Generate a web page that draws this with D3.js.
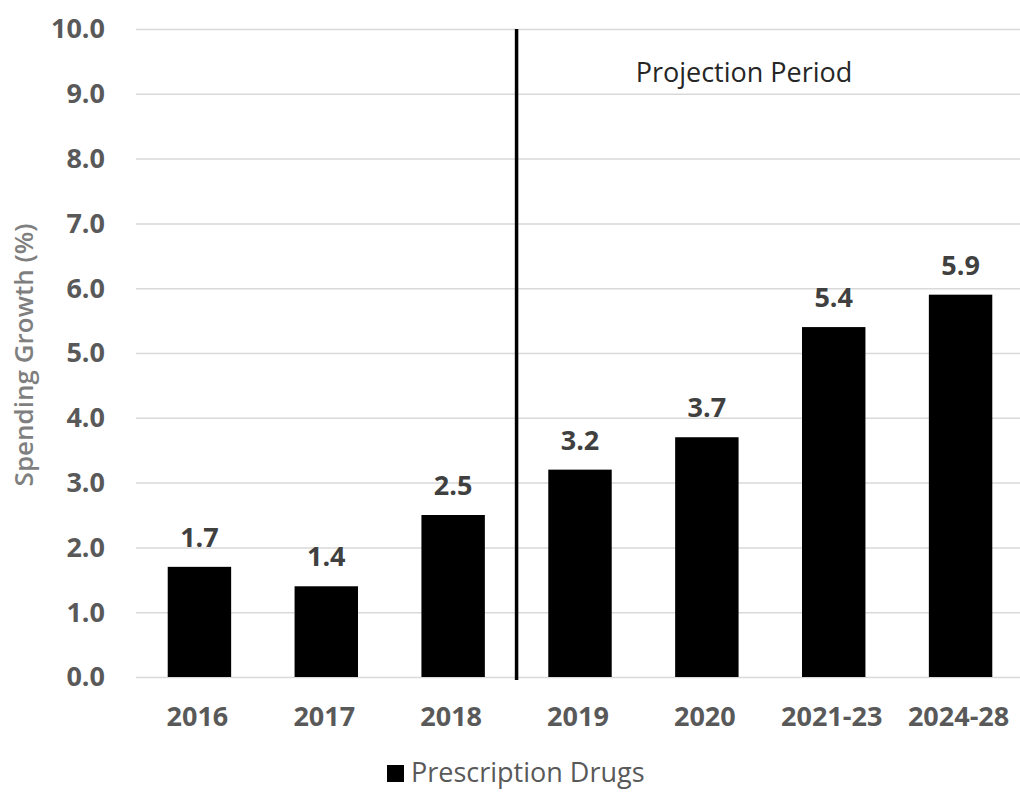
<!DOCTYPE html>
<html>
<head>
<meta charset="utf-8">
<script src="https://cdn.jsdelivr.net/npm/d3@7"></script>
<style>
  body { margin: 0; background: #fff; }
  svg { font-family: "Open Sans", sans-serif; }
  .grid line { stroke: #d9d9d9; stroke-width: 1.5; }
  .grid path { display: none; }
</style>
</head>
<body>
<div id="chart"></div>
<script>
// data
var categories = ['2016', '2017', '2018', '2019', '2020', '2021-23', '2024-28'];
var growth     = [1.7, 1.4, 2.5, 3.2, 3.7, 5.4, 5.9];
var yTicks     = [0, 1, 2, 3, 4, 5, 6, 7, 8, 9, 10];
var projectionStart = '2019';   // first projected category
var seriesName = 'Prescription Drugs';

var width = 1020, height = 792;
var margin = { top: 29, right: 0, bottom: 115, left: 136 };
var plotW = 888, plotH = height - margin.top - margin.bottom;

var svg = d3.select('#chart').append('svg')
    .attr('width', width)
    .attr('height', height);

var g = svg.append('g')
    .attr('transform', 'translate(' + margin.left + ',' + margin.top + ')');

var x = d3.scaleBand().domain(categories).range([0, plotW]).paddingInner(0.5).paddingOuter(0.25);
var y = d3.scaleLinear().domain([0, 10]).range([plotH, 0]);

// horizontal grid
g.append('g')
    .attr('class', 'grid')
    .call(d3.axisLeft(y).tickValues(yTicks).tickSize(-plotW).tickFormat(''));

// y tick labels
g.append('g')
    .selectAll('text')
    .data(yTicks)
    .join('text')
    .attr('x', -31)
    .attr('y', function(d) { return y(d); })
    .attr('dy', '0.35em')
    .attr('text-anchor', 'end')
    .style('font-size', '27px')
    .style('font-weight', 'bold')
    .style('fill', '#595959')
    .text(function(d) { return d.toFixed(1); });

// bars
g.selectAll('rect.bar')
    .data(growth)
    .join('rect')
    .attr('class', 'bar')
    .attr('x', function(d, i) { return x(categories[i]); })
    .attr('y', function(d) { return y(d); })
    .attr('width', x.bandwidth())
    .attr('height', function(d) { return plotH - y(d); })
    .attr('fill', '#000');

// value labels
g.selectAll('text.val')
    .data(growth)
    .join('text')
    .attr('class', 'val')
    .attr('x', function(d, i) { return x(categories[i]) + x.bandwidth() / 2; })
    .attr('y', function(d) { return y(d) - 20; })
    .attr('text-anchor', 'middle')
    .style('font-size', '27px')
    .style('font-weight', 'bold')
    .style('fill', '#404040')
    .text(function(d) { return d.toFixed(1); });

// x labels
g.selectAll('text.cat')
    .data(categories)
    .join('text')
    .attr('class', 'cat')
    .attr('x', function(d) { return x(d) + x.bandwidth() / 2 - 2; })
    .attr('y', plotH + 49)
    .attr('text-anchor', 'middle')
    .style('font-size', '27px')
    .style('font-weight', 'bold')
    .style('fill', '#595959')
    .text(function(d) { return d; });

// projection divider
var step = x.step();
var divX = x(projectionStart) - (step - x.bandwidth()) / 2;
g.append('line')
    .attr('x1', divX).attr('x2', divX)
    .attr('y1', y(10)).attr('y2', plotH + 3)
    .attr('stroke', '#000')
    .attr('stroke-width', 3.5);

g.append('text')
    .attr('x', 608)
    .attr('y', 53)
    .attr('text-anchor', 'middle')
    .style('font-size', '27px')
    .style('fill', '#262626')
    .text('Projection Period');

// y axis title
svg.append('text')
    .attr('transform', 'translate(33,' + (margin.top + plotH / 2 + 2) + ') rotate(-90)')
    .attr('text-anchor', 'middle')
    .style('font-size', '26px')
    .style('font-weight', 600)
    .style('fill', '#7f7f7f')
    .text('Spending Growth (%)');

// legend
var legend = svg.append('g').attr('transform', 'translate(387,765)');
legend.append('rect')
    .attr('width', 17).attr('height', 17)
    .attr('fill', '#000');
legend.append('text')
    .attr('x', 24)
    .attr('y', 17)
    .style('font-size', '27px')
    .style('fill', '#595959')
    .text(seriesName);
</script>
</body>
</html>
